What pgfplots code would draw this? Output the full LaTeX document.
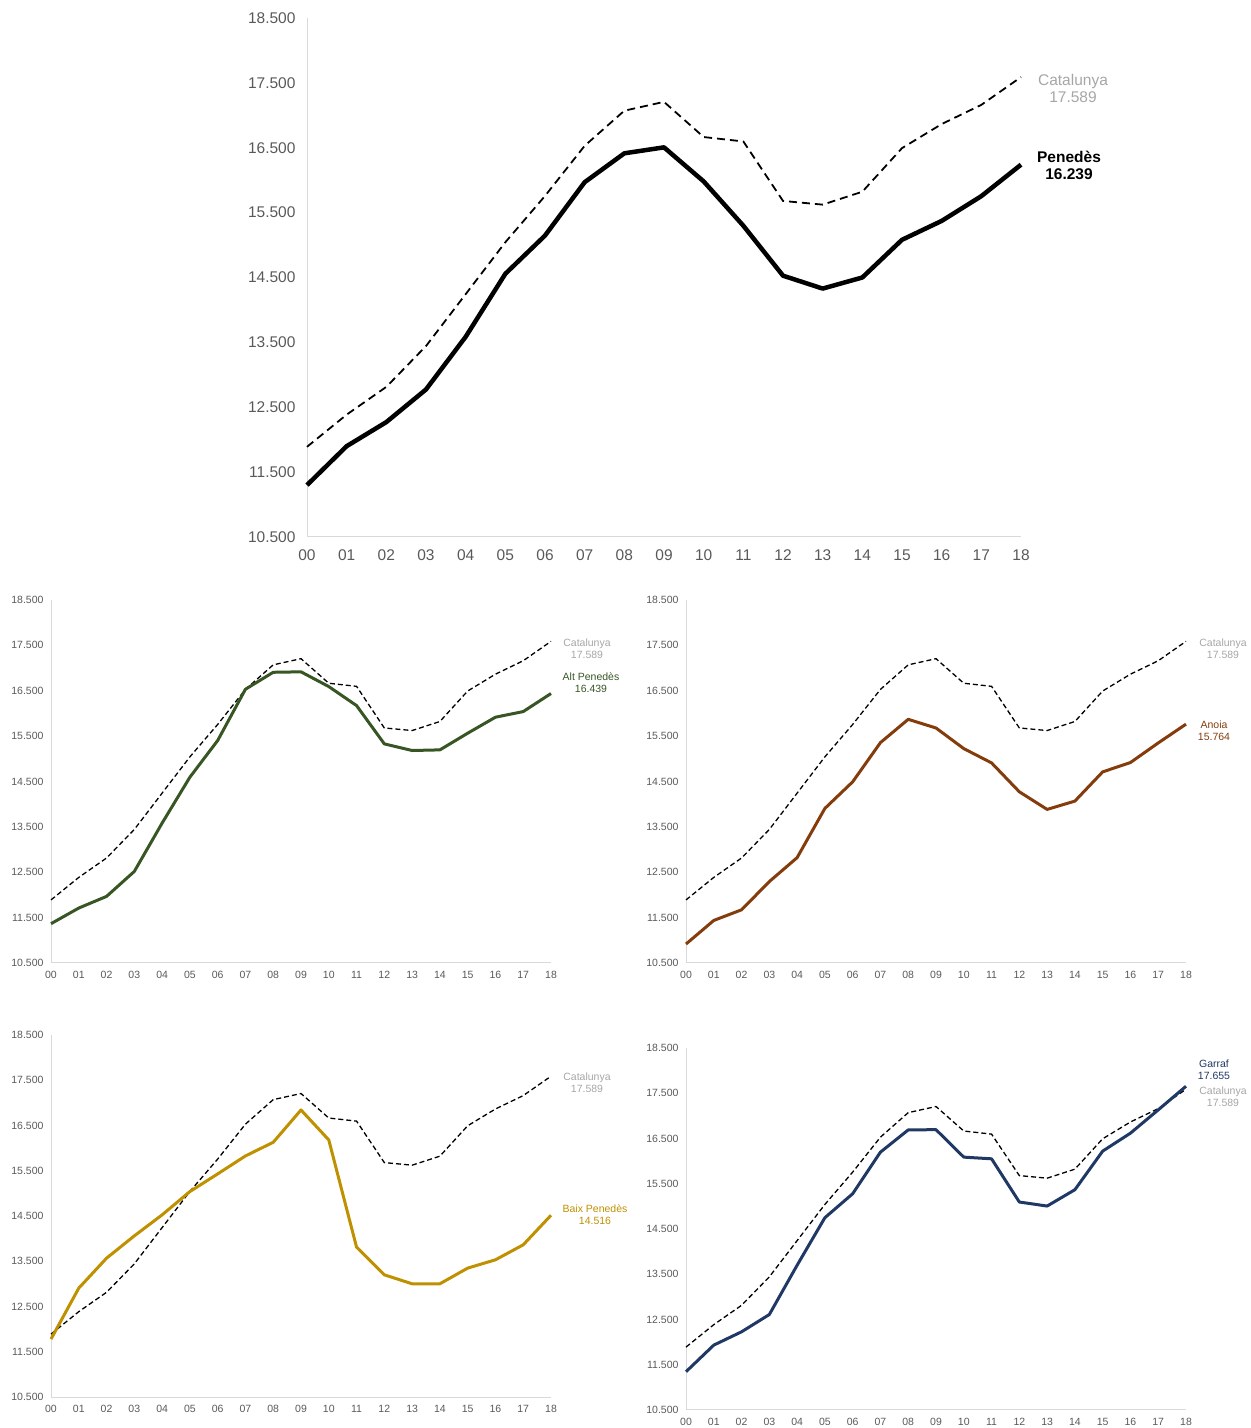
\documentclass[border=0pt]{standalone}
\usepackage{fontspec}
\setmainfont{Liberation Sans}
\usepackage{pgfplots}
\usepackage{pgfplotstable}
\pgfplotsset{compat=1.18}

\definecolor{tickgray}{HTML}{595959}
\definecolor{axgray}{HTML}{D9D9D9}
\definecolor{catgray}{HTML}{A6A6A6}
\definecolor{altgreen}{HTML}{375623}
\definecolor{anoiabrown}{HTML}{843C0C}
\definecolor{baixgold}{HTML}{BF9000}
\definecolor{garrafblue}{HTML}{203864}

\pgfplotstableread{
x cat pen alt ano baix gar
0 11890 11300 11366 10918 11780 11346
1 12386 11900 11711 11438 12906 11934
2 12814 12271 11968 11672 13568 12228
3 13443 12774 12518 12295 14061 12610
4 14243 13586 13583 12822 14525 13699
5 15043 14557 14595 13907 15040 14750
6 15757 15146 15403 14493 15430 15279
7 16530 15969 16533 15357 15827 16199
8 17071 16414 16907 15870 16129 16690
9 17207 16506 16917 15679 16843 16695
10 16665 15981 16592 15225 16181 16088
11 16597 15298 16173 14910 13811 16051
12 15680 14528 15329 14273 13200 15096
13 15623 14329 15183 13885 13002 15007
14 15822 14500 15197 14068 13002 15368
15 16494 15081 15564 14712 13348 16221
16 16865 15372 15917 14918 13532 16618
17 17161 15754 16041 15350 13863 17132
18 17589 16239 16439 15764 14516 17655
}\data

\pgfplotsset{
  base/.style={
    scale only axis, anchor=south west, clip=false,
    xmin=0, xmax=18, ymin=10500, ymax=18500,
    scaled y ticks=false, scaled x ticks=false,
    axis x line*=bottom, axis y line*=left,
    axis line style={draw=axgray, line width=1pt, -},
    xtick={0,...,18},
    xticklabels={00,01,02,03,04,05,06,07,08,09,10,11,12,13,14,15,16,17,18},
    ytick={10500,11500,...,18500},
    yticklabels={10.500,11.500,12.500,13.500,14.500,15.500,16.500,17.500,18.500},
    major tick length=0pt,
    tick label style={text=tickgray},
  },
  big/.style={base,
    width=714pt, height=519pt,
    tick label style={font=\fontsize{15.5}{17}\selectfont},
    yticklabel style={xshift=-8pt},
    xticklabel style={yshift=-9pt},
  },
  small/.style={base,
    width=500pt, height=363pt,
    tick label style={font=\fontsize{10.5}{12}\selectfont},
    yticklabel style={xshift=-4pt},
    xticklabel style={yshift=-5pt},
  },
  catbig/.style={black, line width=1.8pt, dash pattern=on 8pt off 5pt},
  catsmall/.style={black, line width=1.3pt, dash pattern=on 5pt off 3pt},
}

\begin{document}
\begin{tikzpicture}[x=1pt,y=1pt]
\useasboundingbox (0,0) rectangle (1251,1428);

% Top: Penedes
\begin{axis}[big, at={(307pt,891pt)}]
\addplot[catbig] table[x=x,y=cat]{\data};
\addplot[black, line width=4.5pt, line join=round] table[x=x,y=pen]{\data};
\end{axis}
\node[align=center, text=catgray, font=\fontsize{15.5}{17}\selectfont] at (1073,1340) {Catalunya\\17.589};
\node[align=center, text=black, font=\fontsize{15.5}{17}\selectfont\bfseries] at (1069,1263) {Penedès\\16.239};

% Alt Penedes
\begin{axis}[small, at={(51pt,465pt)}]
\addplot[catsmall] table[x=x,y=cat]{\data};
\addplot[altgreen, line width=3pt, line join=round] table[x=x,y=alt]{\data};
\end{axis}
\node[align=center, text=catgray, font=\fontsize{10.5}{12}\selectfont] at (587,779) {Catalunya\\17.589};
\node[align=center, text=altgreen, font=\fontsize{10.5}{12}\selectfont] at (591,745) {Alt Penedès\\16.439};

% Anoia
\begin{axis}[small, at={(686pt,465pt)}]
\addplot[catsmall] table[x=x,y=cat]{\data};
\addplot[anoiabrown, line width=3pt, line join=round] table[x=x,y=ano]{\data};
\end{axis}
\node[align=center, text=catgray, font=\fontsize{10.5}{12}\selectfont] at (1223,779) {Catalunya\\17.589};
\node[align=center, text=anoiabrown, font=\fontsize{10.5}{12}\selectfont] at (1214,697) {Anoia\\15.764};

% Baix Penedes
\begin{axis}[small, at={(51pt,31pt)}, height=362pt]
\addplot[catsmall] table[x=x,y=cat]{\data};
\addplot[baixgold, line width=3pt, line join=round] table[x=x,y=baix]{\data};
\end{axis}
\node[align=center, text=catgray, font=\fontsize{10.5}{12}\selectfont] at (587,345) {Catalunya\\17.589};
\node[align=center, text=baixgold, font=\fontsize{10.5}{12}\selectfont] at (595,213) {Baix Penedès\\14.516};

% Garraf
\begin{axis}[small, at={(686pt,18pt)}, height=362pt]
\addplot[catsmall] table[x=x,y=cat]{\data};
\addplot[garrafblue, line width=3pt, line join=round] table[x=x,y=gar]{\data};
\end{axis}
\node[align=center, text=garrafblue, font=\fontsize{10.5}{12}\selectfont] at (1214,358) {Garraf\\17.655};
\node[align=center, text=catgray, font=\fontsize{10.5}{12}\selectfont] at (1223,331) {Catalunya\\17.589};
\end{tikzpicture}
\end{document}
